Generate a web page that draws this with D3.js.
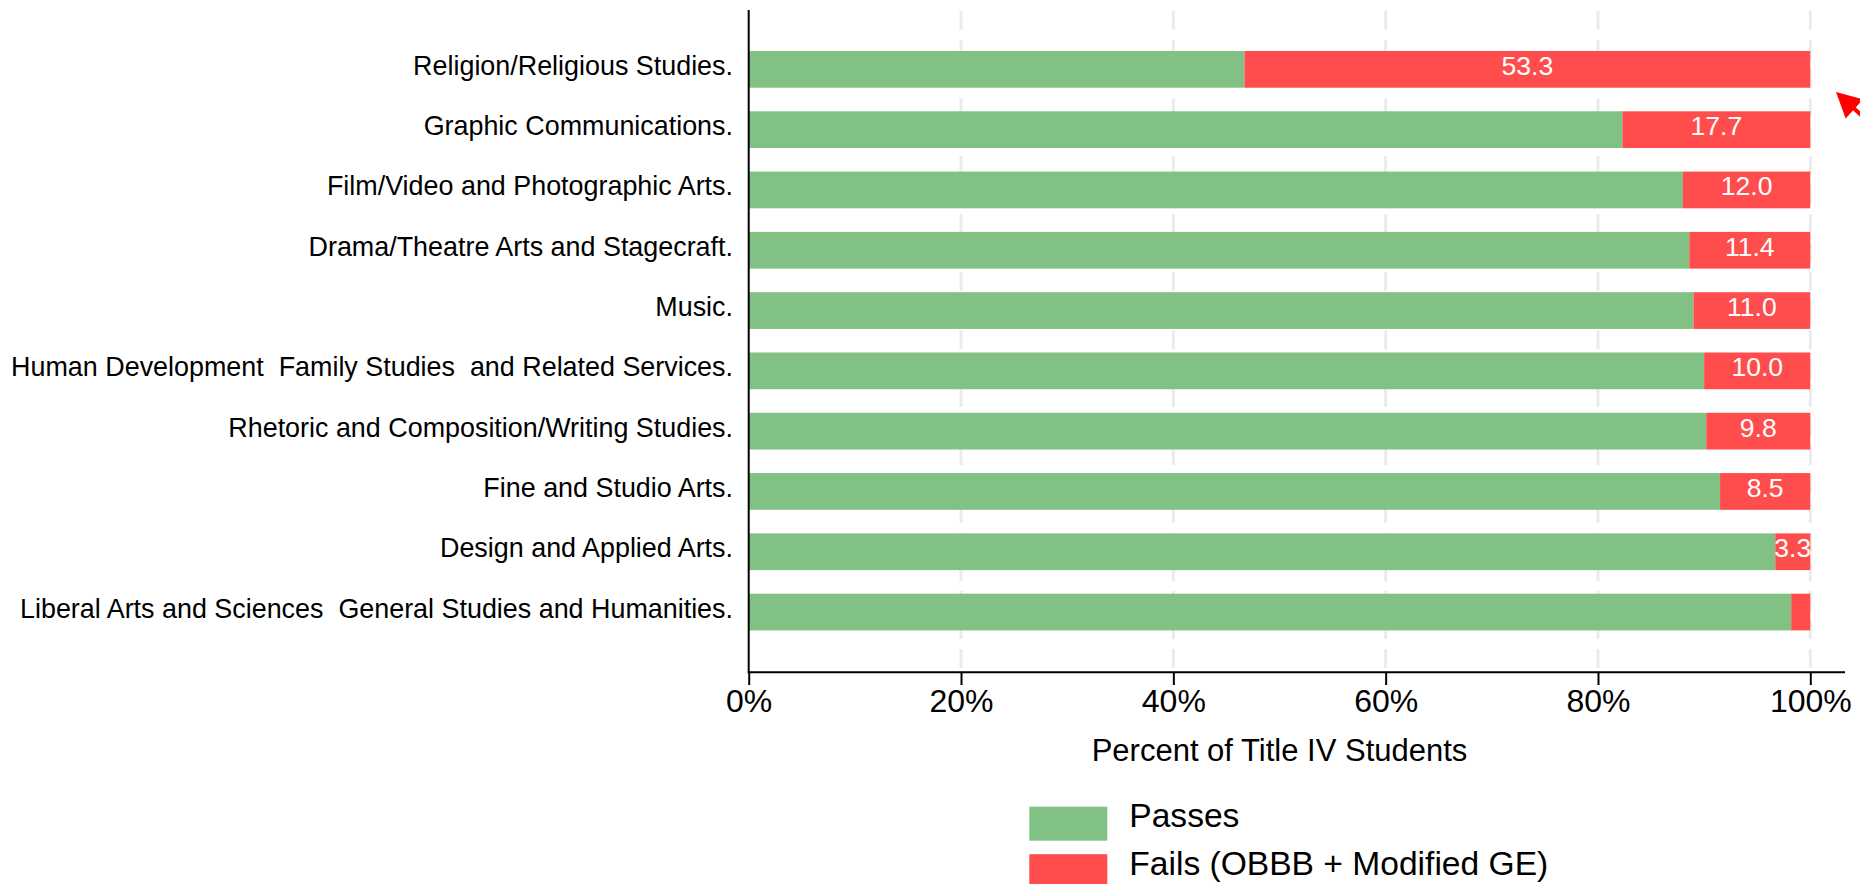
<!DOCTYPE html>
<html>
<head>
<meta charset="utf-8">
<script src="https://cdn.jsdelivr.net/npm/d3@7"></script>
<style>
  html, body { margin: 0; padding: 0; background: #ffffff; }
  svg { display: block; font-family: "Liberation Sans", Arial, sans-serif; }
</style>
</head>
<body>
<svg id="chart" width="1860" height="884"></svg>
<script>
const categories = [
  "Religion/Religious Studies.",
  "Graphic Communications.",
  "Film/Video and Photographic Arts.",
  "Drama/Theatre Arts and Stagecraft.",
  "Music.",
  "Human Development  Family Studies  and Related Services.",
  "Rhetoric and Composition/Writing Studies.",
  "Fine and Studio Arts.",
  "Design and Applied Arts.",
  "Liberal Arts and Sciences  General Studies and Humanities."
];
const passes = [46.7, 82.3, 88.0, 88.6, 89.0, 90.0, 90.2, 91.5, 96.7, 98.2];
const fails  = [53.3, 17.7, 12.0, 11.4, 11.0, 10.0, 9.8, 8.5, 3.3, 1.8];
const xTicks = [0, 20, 40, 60, 80, 100];
const seriesNames = ["Passes", "Fails (OBBB + Modified GE)"];
const seriesColors = ["#81c183", "#ff4d4d"];
const axisTitle = "Percent of Title IV Students";

const svg = d3.select("#chart");

const x = d3.scaleLinear().domain([0, 100]).range([748.7, 1810.3]);
const y = d3.scaleBand().domain(categories).range([51, 630.4]).paddingInner(0.391).paddingOuter(0);

// gridlines
svg.append("g").selectAll("line").data(xTicks.filter(d => d > 0)).join("line")
  .attr("x1", d => x(d)).attr("x2", d => x(d))
  .attr("y1", 11).attr("y2", 672)
  .attr("stroke", "#ebebeb").attr("stroke-width", 3)
  .attr("stroke-dasharray", "19,10");

const rows = categories.map((c, i) => ({ c, p: passes[i], f: fails[i] }));

// bars
const g = svg.append("g");
g.selectAll("rect.pass").data(rows).join("rect").attr("class", "pass")
  .attr("x", x(0)).attr("y", d => y(d.c))
  .attr("width", d => x(d.p) - x(0)).attr("height", y.bandwidth())
  .attr("fill", seriesColors[0]);
g.selectAll("rect.fail").data(rows).join("rect").attr("class", "fail")
  .attr("x", d => x(d.p)).attr("y", d => y(d.c))
  .attr("width", d => x(100) - x(d.p)).attr("height", y.bandwidth())
  .attr("fill", seriesColors[1]);

// value labels
g.selectAll("text.val").data(rows.filter(d => d.f >= 2)).join("text").attr("class", "val")
  .attr("x", d => (x(d.p) + x(100)) / 2)
  .attr("y", d => y(d.c) + y.bandwidth() / 2 + 5.5)
  .attr("text-anchor", "middle")
  .attr("fill", "#ffffff")
  .attr("font-size", 26.5)
  .text(d => d.f.toFixed(1));

// category labels
svg.append("g").selectAll("text").data(categories).join("text")
  .attr("x", 733)
  .attr("y", d => y(d) + y.bandwidth() / 2 + 5.5)
  .attr("text-anchor", "end")
  .attr("fill", "#000")
  .attr("font-size", 26.9)
  .style("white-space", "pre")
  .attr("xml:space", "preserve")
  .text(d => d);

// y axis line
svg.append("line").attr("x1", x(0)).attr("x2", x(0)).attr("y1", 10).attr("y2", 672.3)
  .attr("stroke", "#000").attr("stroke-width", 2);

// x axis
const xAxis = d3.axisBottom(x).tickValues(xTicks).tickFormat(d => d + "%").tickSize(12.7).tickSizeOuter(0);
const ax = svg.append("g").attr("transform", "translate(0,672.3)").call(xAxis);
ax.select(".domain").remove();
ax.selectAll(".tick line").attr("stroke", "#000").attr("stroke-width", 2);
ax.selectAll(".tick text").attr("font-size", 32).attr("font-family", "Liberation Sans, Arial, sans-serif")
  .attr("fill", "#000").attr("y", 0).attr("dy", 0).attr("transform", "translate(0,39.7)");
svg.append("line").attr("x1", x(0) - 1).attr("x2", 1845).attr("y1", 672.3).attr("y2", 672.3)
  .attr("stroke", "#000").attr("stroke-width", 2);

// axis title
svg.append("text").attr("x", (x(0) + x(100)) / 2).attr("y", 761)
  .attr("text-anchor", "middle").attr("font-size", 31).attr("fill", "#000").text(axisTitle);

// legend
const lg = svg.append("g");
seriesNames.forEach((name, i) => {
  lg.append("rect").attr("x", 1029.3).attr("y", 806.7 + i * 47.5).attr("width", 78).attr("height", 34)
    .attr("fill", seriesColors[i]);
  lg.append("text").attr("x", 1129.3).attr("y", 826.5 + i * 48).attr("font-size", 33.6).attr("fill", "#000").text(name);
});

// annotation arrow (partially off-canvas)
const tip = [1836, 92];
const ang = Math.atan2(16, 17.5);
const L = 25, W = 13;
const bx = tip[0] + L * Math.cos(ang), by = tip[1] + L * Math.sin(ang);
svg.append("line").attr("x1", bx - 2 * Math.cos(ang)).attr("y1", by - 2 * Math.sin(ang))
  .attr("x2", tip[0] + 120 * Math.cos(ang)).attr("y2", tip[1] + 120 * Math.sin(ang))
  .attr("stroke", "#ff0000").attr("stroke-width", 4);
svg.append("path")
  .attr("d", `M${tip[0]},${tip[1]} L${bx - W * Math.sin(ang)},${by + W * Math.cos(ang)} L${bx + W * Math.sin(ang)},${by - W * Math.cos(ang)} Z`)
  .attr("fill", "#ff0000");
</script>
</body>
</html>
